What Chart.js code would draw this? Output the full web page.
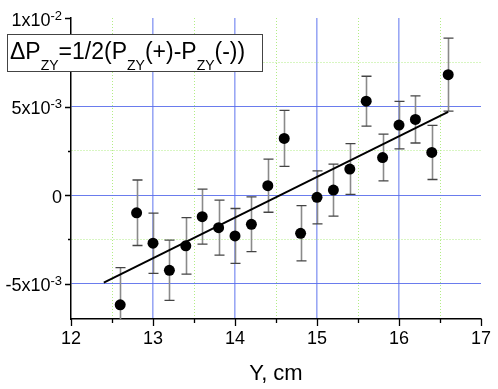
<!DOCTYPE html>
<html>
<head>
<meta charset="utf-8">
<script src="https://cdn.jsdelivr.net/npm/chart.js@4"></script>
<style>
    body { margin: 0; background: #fff; }
    canvas { display: block; }
</style>
</head>
<body>
<canvas id="plot" width="498" height="389"></canvas>
<script>
// measured points, Y in cm, asymmetry and its error
var yPos = [12.6, 12.8, 13.0, 13.2, 13.4, 13.6, 13.8, 14.0, 14.2, 14.4, 14.6,
    14.8, 15.0, 15.2, 15.4, 15.6, 15.8, 16.0, 16.2, 16.4, 16.6];
var dPzy = [-6.2e-3, -1.0e-3, -2.72e-3, -4.25e-3, -2.87e-3, -1.22e-3, -1.84e-3, -2.31e-3,
    -1.65e-3, 0.53e-3, 3.2e-3, -2.16e-3, -0.13e-3, 0.28e-3, 1.47e-3, 5.3e-3, 2.12e-3,
    3.95e-3, 4.27e-3, 2.41e-3, 6.8e-3];
var dPzyErr = [2.1e-3, 1.85e-3, 1.7e-3, 1.7e-3, 1.6e-3, 1.55e-3, 1.55e-3, 1.55e-3,
    1.55e-3, 1.5e-3, 1.58e-3, 1.56e-3, 1.5e-3, 1.47e-3, 1.43e-3, 1.41e-3, 1.32e-3,
    1.34e-3, 1.33e-3, 1.53e-3, 2.06e-3];

// linear fit ends
var fitX = [12.4, 16.6];
var fitY = [-4.94e-3, 4.7e-3];

// axes
var xTicks = [12, 12.5, 13, 13.5, 14, 14.5, 15, 15.5, 16, 16.5, 17];
var xLabels = ['12', '13', '14', '15', '16', '17'];
var yTicks = [-0.005, -0.0025, 0, 0.0025, 0.005, 0.0075, 0.01];
var yLabelVals = [-0.005, 0, 0.005, 0.01];
var yLabelMain = ['-5x10', '0', '5x10', '1x10'];
var yLabelExp = ['-3', '', '-3', '-2'];

var FONT = '"Liberation Sans", Arial, sans-serif';

var Plot = {
    s: {
        canvas: document.getElementById('plot'),
        blue: 'rgba(90, 110, 235, 0.9)',
        blueV: 'rgba(110, 130, 240, 0.7)',
        green: 'rgba(170, 235, 120, 0.9)'
    },

    isMajor: function (v, step) {
        return Math.round(v / step) % 2 === 0;
    },

    gridColor: function (ctx, step, edgeVals, vertical) {
        if (!ctx.tick) return 'transparent';
        let v = ctx.tick.value;
        for (let i = 0; i < edgeVals.length; i++) {
            if (Math.abs(v - edgeVals[i]) < 1e-9) return 'transparent';
        }
        if (Plot.isMajor(v, step)) return vertical ? Plot.s.blueV : Plot.s.blue;
        return Plot.s.green;
    },

    gridDash: function (ctx, step) {
        if (!ctx.tick) return [];
        return Plot.isMajor(ctx.tick.value, step) ? [] : [1, 2];
    },

    sci: function (c, main, exp, right, y) {
        c.font = '18px ' + FONT;
        let mw = c.measureText(main).width;
        c.font = '13px ' + FONT;
        let ew = exp ? c.measureText(exp).width : 0;
        c.fillStyle = '#000';
        c.textAlign = 'left';
        c.textBaseline = 'alphabetic';
        c.font = '18px ' + FONT;
        c.fillText(main, right - ew - mw, y + 7.5);
        if (exp) {
            c.font = '13px ' + FONT;
            c.fillText(exp, right - ew, y + 1.5);
        }
    },

    errorBars: {
        id: 'errorBars',
        beforeDatasetsDraw: function (chart) {
            let c = chart.ctx, a = chart.chartArea;
            let xs = chart.scales.x, ys = chart.scales.y;
            c.save();
            c.beginPath();
            c.rect(a.left, a.top, a.right - a.left, a.bottom - a.top);
            c.clip();
            for (let i = 0; i < yPos.length; i++) {
                let px = Math.round(xs.getPixelForValue(yPos[i])) + 0.5;
                let top = ys.getPixelForValue(dPzy[i] + dPzyErr[i]);
                let bot = ys.getPixelForValue(dPzy[i] - dPzyErr[i]);
                c.strokeStyle = '#8a8a8a';
                c.lineWidth = 1.6;
                c.beginPath();
                c.moveTo(px, top);
                c.lineTo(px, bot);
                c.stroke();
                c.strokeStyle = '#444';
                c.lineWidth = 1.3;
                c.beginPath();
                c.moveTo(px - 5, top);
                c.lineTo(px + 5, top);
                c.moveTo(px - 5, bot);
                c.lineTo(px + 5, bot);
                c.stroke();
            }
            c.restore();
        }
    },

    decorations: {
        id: 'decorations',
        afterDraw: function (chart) {
            let c = chart.ctx, a = chart.chartArea;
            let xs = chart.scales.x, ys = chart.scales.y;
            c.save();

            // tick marks
            c.strokeStyle = '#000';
            c.lineWidth = 1.3;
            c.beginPath();
            for (let i = 0; i < xTicks.length; i++) {
                let px = Math.round(xs.getPixelForValue(xTicks[i])) + 0.5;
                let len = Plot.isMajor(xTicks[i], 0.5) ? 7 : 4;
                c.moveTo(px, a.bottom);
                c.lineTo(px, a.bottom + len);
            }
            for (let i = 0; i < yTicks.length; i++) {
                let py = Math.round(ys.getPixelForValue(yTicks[i])) + 0.5;
                let len = Plot.isMajor(yTicks[i], 0.0025) ? 6 : 3;
                c.moveTo(a.left, py);
                c.lineTo(a.left - len, py);
            }
            c.stroke();

            // x labels
            c.fillStyle = '#000';
            c.font = '18px ' + FONT;
            c.textAlign = 'center';
            c.textBaseline = 'alphabetic';
            for (let i = 0; i < xLabels.length; i++) {
                c.fillText(xLabels[i], xs.getPixelForValue(Number(xLabels[i])), a.bottom + 25);
            }

            // y labels
            for (let i = 0; i < yLabelVals.length; i++) {
                Plot.sci(c, yLabelMain[i], yLabelExp[i], a.left - 9, ys.getPixelForValue(yLabelVals[i]));
            }

            // axis title
            c.font = '22px ' + FONT;
            c.textAlign = 'center';
            c.fillText('Y, cm', (a.left + a.right) / 2, 380);

            // legend box
            c.fillStyle = '#fff';
            c.fillRect(7, 34, 256, 38);
            c.strokeStyle = '#444';
            c.lineWidth = 1;
            c.strokeRect(7.5, 34.5, 255, 37);

            let parts = [['\u0394P', 0], ['ZY', 1], ['=1/2(P', 0], ['ZY', 1], ['(+)-P', 0], ['ZY', 1], ['(-))', 0]];
            let x = 10;
            c.fillStyle = '#000';
            c.textAlign = 'left';
            for (let i = 0; i < parts.length; i++) {
                c.font = (parts[i][1] ? '14px ' : '23px ') + FONT;
                c.fillText(parts[i][0], x, parts[i][1] ? 70 : 59);
                x += c.measureText(parts[i][0]).width;
            }
            c.restore();
        }
    },

    init: function () {
        let points = [];
        for (let i = 0; i < yPos.length; i++) {
            points.push({x: yPos[i], y: dPzy[i]});
        }
        let fit = [];
        for (let i = 0; i < fitX.length; i++) {
            fit.push({x: fitX[i], y: fitY[i]});
        }

        new Chart(Plot.s.canvas, {
            type: 'scatter',
            data: {
                datasets: [{
                    data: fit,
                    showLine: true,
                    borderColor: '#000',
                    borderWidth: 2,
                    pointRadius: 0,
                    order: 2
                }, {
                    data: points,
                    pointRadius: 5.5,
                    backgroundColor: '#000',
                    borderColor: '#000',
                    borderWidth: 0,
                    order: 1
                }]
            },
            options: {
                responsive: false,
                animation: false,
                devicePixelRatio: 1,
                layout: {padding: {left: 71, right: 17, top: 18, bottom: 70}},
                plugins: {legend: {display: false}, tooltip: {enabled: false}},
                scales: {
                    x: {
                        type: 'linear',
                        min: 12,
                        max: 17,
                        afterBuildTicks: function (scale) {
                            scale.ticks = xTicks.map(function (v) { return {value: v}; });
                        },
                        ticks: {display: false},
                        grid: {
                            drawTicks: false,
                            color: function (ctx) { return Plot.gridColor(ctx, 0.5, [12, 17], true); },
                            lineWidth: function (ctx) {
                                return ctx.tick && Plot.isMajor(ctx.tick.value, 0.5) ? 1.6 : 1;
                            }
                        },
                        border: {
                            color: '#000',
                            width: 1.5,
                            dash: function (ctx) { return Plot.gridDash(ctx, 0.5); }
                        }
                    },
                    y: {
                        type: 'linear',
                        min: -0.007,
                        max: 0.01,
                        afterBuildTicks: function (scale) {
                            scale.ticks = yTicks.map(function (v) { return {value: v}; });
                        },
                        ticks: {display: false},
                        grid: {
                            drawTicks: false,
                            color: function (ctx) { return Plot.gridColor(ctx, 0.0025, [0.01], false); },
                            lineWidth: 1
                        },
                        border: {
                            color: '#000',
                            width: 1.5,
                            dash: function (ctx) { return Plot.gridDash(ctx, 0.0025); }
                        }
                    }
                }
            },
            plugins: [Plot.errorBars, Plot.decorations]
        });
    }
};

Plot.init();
</script>
</body>
</html>
